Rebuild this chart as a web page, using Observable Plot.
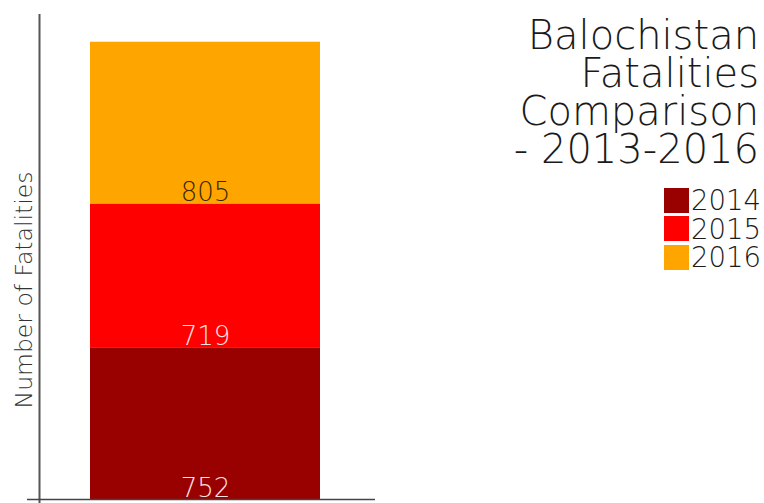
<!DOCTYPE html>
<html>
<head>
<meta charset="utf-8">
<script src="https://cdn.jsdelivr.net/npm/d3@7"></script>
<script src="https://cdn.jsdelivr.net/npm/@observablehq/plot@0.6"></script>
<style>
  html, body { margin: 0; padding: 0; background: #fff; }
  #wrap { position: relative; width: 764px; height: 503px; font-family: "DejaVu Sans", sans-serif; font-weight: 300; color: #1a1a1a; }
  #title { position: absolute; right: 5px; top: 16px; font-size: 40px; line-height: 38px; text-align: right; }
  #legend { position: absolute; right: 3px; top: 186px; }
  .row { display: flex; align-items: center; justify-content: flex-end; height: 28.5px; }
  .sw { width: 25px; height: 25px; margin-right: 2px; }
  .lt { font-size: 27.5px; line-height: 28.5px; }
</style>
</head>
<body>
<div id="wrap"></div>
<script>
// ---- data ----
const region = "Balochistan";
const years = ["2014", "2015", "2016"];
const fatalities = [752, 719, 805];
const colors = ["#990000", "#ff0000", "#ffa500"];
const titleLines = ["Balochistan", "Fatalities", "Comparison", "- 2013-2016"];
const yLabel = "Number of Fatalities";

const data = years.map((y, i) => ({region, year: y, value: fatalities[i]}));

const W = 764, H = 503, ML = 39, MR = 389, MT = 14;
const labelOpts = {fontSize: 26, fontFamily: "DejaVu Sans", fontWeight: 300, lineAnchor: "bottom", dy: -3};

const chart = Plot.plot({
  width: W,
  height: H,
  marginLeft: ML,
  marginRight: MR,
  marginTop: MT,
  marginBottom: 0,
  style: {fontFamily: "DejaVu Sans", fontSize: "22px", fontWeight: 300, background: "#fff", color: "#555"},
  x: {domain: [region], axis: null, paddingInner: 0, paddingOuter: 0.23, align: 0.48},
  y: {domain: [0, 2414], axis: null, insetBottom: 4},
  color: {domain: years, range: colors},
  marks: [
    Plot.barY(data, {x: "region", y: "value", fill: "year"}),
    Plot.text(data, Plot.filter(d => d.year !== "2016",
      Plot.stackY1({x: "region", y: "value", text: d => String(d.value), fill: "#ffe2e2", ...labelOpts}))),
    Plot.text(data, Plot.filter(d => d.year === "2016",
      Plot.stackY1({x: "region", y: "value", text: d => String(d.value), fill: "#3a2800", ...labelOpts}))),
    // y-axis line along the frame's left edge (a frame-spanning rule moved from the frame centre)
    Plot.ruleX([0], {x: null, dx: ML - (ML + W - MR) / 2, stroke: "#555", strokeWidth: 2}),
    Plot.ruleY([0], {stroke: "#444", strokeWidth: 1.5, insetLeft: -12}),
    Plot.text([yLabel], {frameAnchor: "left", textAnchor: "middle", rotate: -90, dx: -15, dy: 31, fill: "#333",
      fontSize: 23.5, fontFamily: "DejaVu Sans", fontWeight: 300})
  ]
});

const wrap = document.getElementById("wrap");
wrap.appendChild(chart);

const title = document.createElement("div");
title.id = "title";
title.innerHTML = titleLines.join("<br>");
wrap.appendChild(title);

const legend = document.createElement("div");
legend.id = "legend";
years.forEach((y, i) => {
  const row = document.createElement("div");
  row.className = "row";
  row.innerHTML = `<div class="sw" style="background:${colors[i]}"></div><span class="lt">${y}</span>`;
  legend.appendChild(row);
});
wrap.appendChild(legend);
</script>
</body>
</html>
